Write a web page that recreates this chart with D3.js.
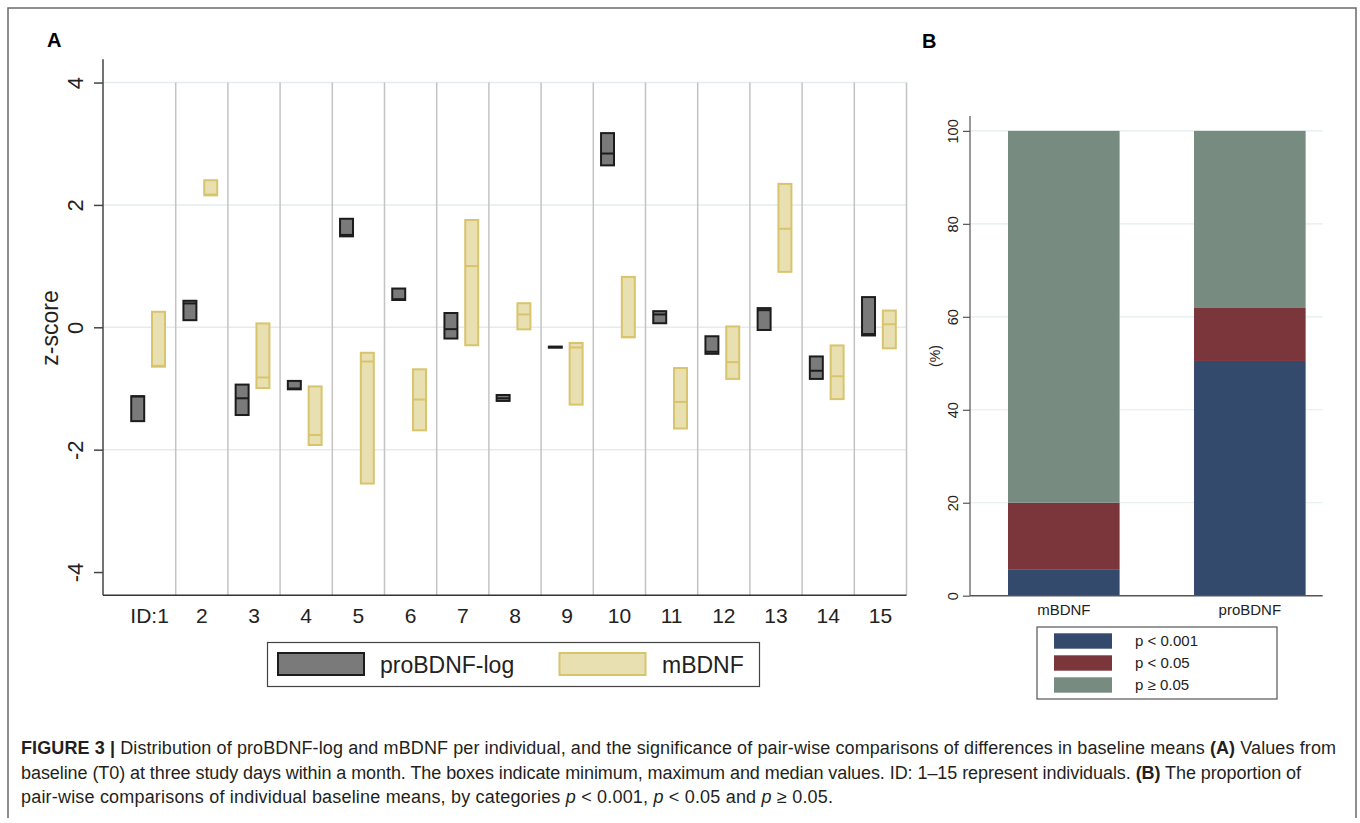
<!DOCTYPE html>
<html>
<head>
<meta charset="utf-8">
<script src="https://cdn.jsdelivr.net/npm/d3@7"></script>
<style>
  html, body { margin: 0; padding: 0; background: #fff; }
  svg { display: block; font-family: "Liberation Sans", Arial, Helvetica, sans-serif; }
</style>
</head>
<body>
<svg id="chart" width="1360" height="823"></svg>
<script>
// ---------------- Data ----------------
const ids = ["1","2","3","4","5","6","7","8","9","10","11","12","13","14","15"];
const idLabels = ["ID:1","2","3","4","5","6","7","8","9","10","11","12","13","14","15"];
const proMin = [-1.55, 0.10, -1.45, -1.03, 1.47, 0.43, -0.20, -1.22, -0.35, 2.63, 0.05, -0.45, -0.06, -0.86, -0.15];
const proMed = [-1.13, 0.39, -1.16, -1.00, 1.51, 0.46, -0.03, -1.16, -0.32, 2.84, 0.21, -0.40, 0.28, -0.71, -0.11];
const proMax = [-1.11, 0.45, -0.92, -0.86, 1.79, 0.65, 0.25, -1.09, -0.30, 3.19, 0.28, -0.13, 0.33, -0.46, 0.51];
const mMin = [-0.66, 2.14, -1.01, -1.94, -2.57, -1.70, -0.31, -0.05, -1.28, -0.18, -1.67, -0.86, 0.89, -1.19, -0.36];
const mMed = [-0.63, 2.17, -0.82, -1.76, -0.56, -1.18, 1.00, 0.21, -0.33, -0.16, -1.22, -0.57, 1.61, -0.80, 0.05];
const mMax = [0.27, 2.42, 0.08, -0.95, -0.40, -0.67, 1.77, 0.41, -0.24, 0.84, -0.65, 0.03, 2.36, -0.28, 0.29];
const yTicksA = [-4, -2, 0, 2, 4];
const gridA = [-2, 0, 2, 4];
const seriesA = ["proBDNF-log", "mBDNF"];

const groupsB = ["mBDNF", "proBDNF"];
const catsB = ["p < 0.001", "p < 0.05", "p \u2265 0.05"];
const pLow = [5.7, 50.5];     // p < 0.001
const pMid = [14.3, 11.4];    // p < 0.05
const pHigh = [80.0, 38.1];   // p >= 0.05
const yTicksB = [0, 20, 40, 60, 80, 100];

// ---------------- Setup ----------------
const svg = d3.select("#chart");
const ink = "#222";

// Frame
svg.append("path").attr("d", "M8,818 L8,8 L1356,8 L1356,818")
  .attr("fill", "none").attr("stroke", "#6a6a6a").attr("stroke-width", 1.5);

// Panel letters
svg.append("text").attr("x", 47).attr("y", 47).attr("font-size", 20).attr("font-weight", "bold").attr("fill", "#000").text("A");
svg.append("text").attr("x", 922).attr("y", 48).attr("font-size", 20).attr("font-weight", "bold").attr("fill", "#000").text("B");

// ---------------- Panel A ----------------
const yA = d3.scaleLinear().domain([-4.38, 4.38]).range([595.3, 59.3]);
const xA = d3.scaleBand().domain(ids).range([123.5, 906.5]).padding(0);
const bw = xA.bandwidth();
const sub = d3.scaleBand().domain(seriesA).range([0, bw]).paddingInner(0.28).paddingOuter(0.395).align(0.41);
const gA = svg.append("g");

// gridlines
gA.selectAll("line.grid").data(gridA).join("line")
  .attr("x1", 103).attr("x2", 906.5)
  .attr("y1", d => yA(d)).attr("y2", d => yA(d))
  .attr("stroke", "#e3ecee").attr("stroke-width", 1.5);

// separators
gA.selectAll("line.sep").data(ids).join("line")
  .attr("x1", d => xA(d) + bw).attr("x2", d => xA(d) + bw)
  .attr("y1", yA(4)).attr("y2", yA(-4.38))
  .attr("stroke", "#c4c4c4").attr("stroke-width", 1.5);

// boxes
function drawBoxes(series, mins, meds, maxs, fill, stroke, sw) {
  const data = ids.map((id, i) => ({id, min: mins[i], med: meds[i], max: maxs[i]}));
  const w = sub.bandwidth();
  const g = gA.append("g");
  g.selectAll("rect").data(data).join("rect")
    .attr("x", d => xA(d.id) + sub(series) + sw / 2)
    .attr("width", w - sw)
    .attr("y", d => yA(d.max) + sw / 2)
    .attr("height", d => Math.max(0.5, yA(d.min) - yA(d.max) - sw))
    .attr("fill", fill).attr("stroke", stroke).attr("stroke-width", sw);
  g.selectAll("line").data(data).join("line")
    .attr("x1", d => xA(d.id) + sub(series) + sw / 2)
    .attr("x2", d => xA(d.id) + sub(series) + w - sw / 2)
    .attr("y1", d => yA(d.med)).attr("y2", d => yA(d.med))
    .attr("stroke", stroke).attr("stroke-width", sw);
}
drawBoxes("proBDNF-log", proMin, proMed, proMax, "#7a7a7a", "#1c1c1c", 2);
drawBoxes("mBDNF", mMin, mMed, mMax, "#e9e0b2", "#d8c46c", 2);

// y axis
const axA = d3.axisLeft(yA).tickValues(yTicksA).tickSize(9).tickFormat(d => String(d));
const gyA = gA.append("g").attr("transform", "translate(103,0)").call(axA);
gyA.select(".domain").attr("d", `M0,${yA(4.38)}V${yA(-4.38)}`).attr("stroke", "#444").attr("stroke-width", 1.5);
gyA.selectAll(".tick line").attr("stroke", "#444").attr("stroke-width", 1.5);
gyA.selectAll(".tick text")
  .attr("font-size", 22).attr("fill", ink)
  .attr("x", 0).attr("y", 0).attr("dy", null)
  .attr("text-anchor", "middle")
  .attr("transform", "translate(-20,0) rotate(-90)");

// x axis
const axXA = d3.axisBottom(xA).tickSize(0).tickFormat((d, i) => idLabels[i]);
const gxA = gA.append("g").attr("transform", `translate(0,${yA(-4.38)})`).call(axXA);
gxA.select(".domain").attr("d", "M103,0H906.5").attr("stroke", "#333").attr("stroke-width", 1.5);
gxA.selectAll(".tick text").attr("font-size", 21).attr("fill", ink).attr("dy", null).attr("y", 28);

// y label
gA.append("text").attr("transform", "translate(58,328) rotate(-90)")
  .attr("text-anchor", "middle").attr("font-size", 23).attr("fill", ink).text("z-score");

// legend A
const lgA = gA.append("g");
lgA.append("rect").attr("x", 267.5).attr("y", 642.5).attr("width", 492).attr("height", 44)
  .attr("fill", "#fff").attr("stroke", "#444").attr("stroke-width", 1.2);
const legA = [
  {name: seriesA[0], sx: 278, tx: 380, fill: "#7a7a7a", stroke: "#1c1c1c"},
  {name: seriesA[1], sx: 559.5, tx: 662, fill: "#e9e0b2", stroke: "#d8c46c"}
];
lgA.selectAll("rect.sw").data(legA).join("rect")
  .attr("x", d => d.sx).attr("y", 653).attr("width", 86).attr("height", 22)
  .attr("fill", d => d.fill).attr("stroke", d => d.stroke).attr("stroke-width", 2);
lgA.selectAll("text").data(legA).join("text")
  .attr("x", d => d.tx).attr("y", 673).attr("font-size", 23).attr("fill", ink).text(d => d.name);

// ---------------- Panel B ----------------
const yB = d3.scaleLinear().domain([0, 103.2]).range([595.7, 116]);
const xB = d3.scaleBand().domain(groupsB).range([970, 1322.7]).paddingInner(0.4).paddingOuter(0.148).align(0.69);
const colB = d3.scaleOrdinal().domain(catsB).range(["#344a6d", "#7b363c", "#788b81"]);
const gB = svg.append("g");

gB.selectAll("line.grid").data(yTicksB.filter(d => d > 0)).join("line")
  .attr("x1", 970).attr("x2", 1322.7)
  .attr("y1", d => yB(d)).attr("y2", d => yB(d))
  .attr("stroke", "#e3ecee").attr("stroke-width", 1.2);

const rowsB = groupsB.map((g, i) => ({group: g, [catsB[0]]: pLow[i], [catsB[1]]: pMid[i], [catsB[2]]: pHigh[i]}));
const stackB = d3.stack().keys(catsB)(rowsB);
gB.selectAll("g.layer").data(stackB).join("g")
  .attr("fill", d => colB(d.key))
  .selectAll("rect").data(d => d).join("rect")
  .attr("x", d => xB(d.data.group))
  .attr("width", xB.bandwidth())
  .attr("y", d => yB(d[1]))
  .attr("height", d => yB(d[0]) - yB(d[1]));

const axB = d3.axisLeft(yB).tickValues(yTicksB).tickSize(7).tickFormat(d => String(d));
const gyB = gB.append("g").attr("transform", "translate(970,0)").call(axB);
gyB.select(".domain").attr("d", `M0,${yB(103.2)}V${yB(0)}`).attr("stroke", "#555").attr("stroke-width", 1.2);
gyB.selectAll(".tick line").attr("stroke", "#555").attr("stroke-width", 1.2);
gyB.selectAll(".tick text").attr("font-size", 14.5).attr("fill", ink)
  .attr("x", 0).attr("y", 0).attr("dy", null).attr("text-anchor", "middle")
  .attr("transform", "translate(-12,0) rotate(-90)");

const axXB = d3.axisBottom(xB).tickSize(0);
const gxB = gB.append("g").attr("transform", `translate(0,${yB(0)})`).call(axXB);
gxB.select(".domain").attr("d", "M970,0H1322.7").attr("stroke", "#555").attr("stroke-width", 1.5);
gxB.selectAll(".tick text").attr("font-size", 15).attr("fill", ink).attr("dy", null).attr("y", 19);

gB.append("text").attr("transform", "translate(940,356) rotate(-90)")
  .attr("text-anchor", "middle").attr("font-size", 14).attr("fill", ink).text("(%)");

// legend B
const lgB = gB.append("g");
lgB.append("rect").attr("x", 1037).attr("y", 627).attr("width", 240).attr("height", 72)
  .attr("fill", "#fff").attr("stroke", "#555").attr("stroke-width", 1.2);
const rowY = [633.3, 655.3, 677.3];
lgB.selectAll("rect.sw").data(catsB).join("rect")
  .attr("x", 1054).attr("y", (d, i) => rowY[i]).attr("width", 58).attr("height", 15.4)
  .attr("fill", d => colB(d));
lgB.selectAll("text").data(catsB).join("text")
  .attr("x", 1135).attr("y", (d, i) => rowY[i] + 13).attr("font-size", 15).attr("fill", ink).text(d => d);

// ---------------- Caption ----------------
const cap = svg.append("g").attr("font-size", 18).attr("fill", "#231f20");
const capLines = [
  [["FIGURE 3 | ", "b"], ["Distribution of proBDNF-log and mBDNF per individual, and the significance of pair-wise comparisons of differences in baseline means ", ""], ["(A)", "b"], [" Values from", ""]],
  [["baseline (T0) at three study days within a month. The boxes indicate minimum, maximum and median values. ID: 1\u201315 represent individuals. ", ""], ["(B)", "b"], [" The proportion of", ""]],
  [["pair-wise comparisons of individual baseline means, by categories ", ""], ["p", "i"], [" < 0.001, ", ""], ["p", "i"], [" < 0.05 and ", ""], ["p", "i"], [" \u2265 0.05.", ""]]
];
const capY = [754, 779, 803];
const capW = [1315, 1280, 812];
capLines.forEach((parts, li) => {
  const t = cap.append("text").attr("x", 21).attr("y", capY[li]).attr("xml:space", "preserve")
    .attr("textLength", capW[li]).attr("lengthAdjust", "spacing");
  parts.forEach(([s, st]) => {
    const ts = t.append("tspan").text(s);
    if (st === "b") ts.attr("font-weight", "bold");
    if (st === "i") ts.attr("font-style", "italic");
  });
});
</script>
</body>
</html>
